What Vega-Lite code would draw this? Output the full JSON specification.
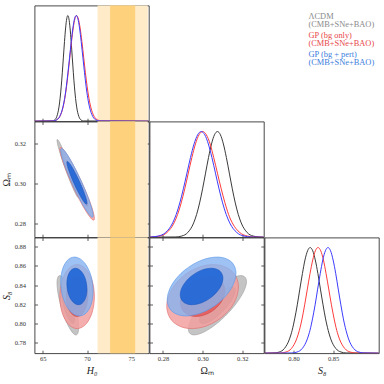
{
"$schema": "https://vega.github.io/schema/vega-lite/v6.json",
"background": "white",
"padding": {"left": 0.5, "top": 4.5, "right": 0, "bottom": 0},
"autosize": {"type": "pad"},
"config": {
 "view": {"stroke": "#333333", "strokeWidth": 0.9},
 "axis": {"domain": false, "grid": false, "zindex": 1, "tickSize": -3, "tickColor": "#333333", "tickWidth": 0.8, "labelFont": "Liberation Serif", "labelFontSize": 6.5, "labelColor": "#333333", "labelPadding": 5, "labelFlush": false, "labelOverlap": false, "titleFont": "Liberation Serif", "titleFontSize": 10, "titleFontWeight": "normal", "titleColor": "#222222", "titlePadding": 4},
 "axisY": {"labelPadding": 12, "titlePadding": 3}
},
"datasets": {
 "bands": [{"lev": "2s", "lo": 71.19, "hi": 76.87}, {"lev": "1s", "lo": 72.61, "hi": 75.45}],
 "c1": [
  {"m":"L","x":64.06,"d":0},{"m":"L","x":66.08,"d":0.0022},{"m":"L","x":66.33,"d":0.0111},{"m":"L","x":66.58,"d":0.0439},{"m":"L","x":66.83,"d":0.1353},{"m":"L","x":66.955,"d":0.2163},{"m":"L","x":67.08,"d":0.3247},{"m":"L","x":67.205,"d":0.4578},{"m":"L","x":67.33,"d":0.6065},{"m":"L","x":67.455,"d":0.7548},{"m":"L","x":67.58,"d":0.8825},{"m":"L","x":67.705,"d":0.9692},{"m":"L","x":67.83,"d":1},{"m":"L","x":67.955,"d":0.9692},{"m":"L","x":68.08,"d":0.8825},{"m":"L","x":68.205,"d":0.7548},{"m":"L","x":68.33,"d":0.6065},{"m":"L","x":68.455,"d":0.4578},{"m":"L","x":68.58,"d":0.3247},{"m":"L","x":68.705,"d":0.2163},{"m":"L","x":68.83,"d":0.1353},{"m":"L","x":69.08,"d":0.0439},{"m":"L","x":69.33,"d":0.0111},{"m":"L","x":69.58,"d":0.0022},{"m":"L","x":76.99,"d":0},
  {"m":"R","x":64.06,"d":0},{"m":"R","x":66.16,"d":0.0022},{"m":"R","x":66.54,"d":0.0111},{"m":"R","x":66.92,"d":0.0439},{"m":"R","x":67.3,"d":0.1353},{"m":"R","x":67.49,"d":0.2163},{"m":"R","x":67.68,"d":0.3247},{"m":"R","x":67.87,"d":0.4578},{"m":"R","x":68.06,"d":0.6065},{"m":"R","x":68.25,"d":0.7548},{"m":"R","x":68.44,"d":0.8825},{"m":"R","x":68.63,"d":0.9692},{"m":"R","x":68.82,"d":1},{"m":"R","x":69.02,"d":0.9692},{"m":"R","x":69.22,"d":0.8825},{"m":"R","x":69.42,"d":0.7548},{"m":"R","x":69.62,"d":0.6065},{"m":"R","x":69.82,"d":0.4578},{"m":"R","x":70.02,"d":0.3247},{"m":"R","x":70.22,"d":0.2163},{"m":"R","x":70.42,"d":0.1353},{"m":"R","x":70.82,"d":0.0439},{"m":"R","x":71.22,"d":0.0111},{"m":"R","x":71.62,"d":0.0022},{"m":"R","x":76.99,"d":0},
  {"m":"B","x":64.06,"d":0},{"m":"B","x":66.155,"d":0.0022},{"m":"B","x":66.53,"d":0.0111},{"m":"B","x":66.905,"d":0.0439},{"m":"B","x":67.28,"d":0.1353},{"m":"B","x":67.47,"d":0.2163},{"m":"B","x":67.655,"d":0.3247},{"m":"B","x":67.84,"d":0.4578},{"m":"B","x":68.03,"d":0.6065},{"m":"B","x":68.22,"d":0.7548},{"m":"B","x":68.405,"d":0.8825},{"m":"B","x":68.59,"d":0.9692},{"m":"B","x":68.78,"d":1},{"m":"B","x":68.97,"d":0.9692},{"m":"B","x":69.155,"d":0.8825},{"m":"B","x":69.34,"d":0.7548},{"m":"B","x":69.53,"d":0.6065},{"m":"B","x":69.72,"d":0.4578},{"m":"B","x":69.905,"d":0.3247},{"m":"B","x":70.09,"d":0.2163},{"m":"B","x":70.28,"d":0.1353},{"m":"B","x":70.655,"d":0.0439},{"m":"B","x":71.03,"d":0.0111},{"m":"B","x":71.405,"d":0.0022},{"m":"B","x":76.99,"d":0}
 ],
 "c2": [
  {"m":"L","x":0.2732,"d":0},{"m":"L","x":0.2865,"d":0.0022},{"m":"L","x":0.2895,"d":0.0111},{"m":"L","x":0.2925,"d":0.0439},{"m":"L","x":0.2955,"d":0.1353},{"m":"L","x":0.297,"d":0.2163},{"m":"L","x":0.2985,"d":0.3247},{"m":"L","x":0.3,"d":0.4578},{"m":"L","x":0.3015,"d":0.6065},{"m":"L","x":0.303,"d":0.7548},{"m":"L","x":0.3045,"d":0.8825},{"m":"L","x":0.306,"d":0.9692},{"m":"L","x":0.3075,"d":1},{"m":"L","x":0.309,"d":0.9692},{"m":"L","x":0.3105,"d":0.8825},{"m":"L","x":0.312,"d":0.7548},{"m":"L","x":0.3135,"d":0.6065},{"m":"L","x":0.315,"d":0.4578},{"m":"L","x":0.3165,"d":0.3247},{"m":"L","x":0.318,"d":0.2163},{"m":"L","x":0.3195,"d":0.1353},{"m":"L","x":0.3225,"d":0.0439},{"m":"L","x":0.3255,"d":0.0111},{"m":"L","x":0.3285,"d":0.0022},{"m":"L","x":0.3309,"d":0},
  {"m":"R","x":0.2732,"d":0},{"m":"R","x":0.2748,"d":0.0022},{"m":"R","x":0.2784,"d":0.0111},{"m":"R","x":0.282,"d":0.0439},{"m":"R","x":0.2856,"d":0.1353},{"m":"R","x":0.2874,"d":0.2163},{"m":"R","x":0.2892,"d":0.3247},{"m":"R","x":0.291,"d":0.4578},{"m":"R","x":0.2928,"d":0.6065},{"m":"R","x":0.2946,"d":0.7548},{"m":"R","x":0.2964,"d":0.8825},{"m":"R","x":0.2982,"d":0.9692},{"m":"R","x":0.3,"d":1},{"m":"R","x":0.3019,"d":0.9692},{"m":"R","x":0.3038,"d":0.8825},{"m":"R","x":0.3056,"d":0.7548},{"m":"R","x":0.3075,"d":0.6065},{"m":"R","x":0.3094,"d":0.4578},{"m":"R","x":0.3113,"d":0.3247},{"m":"R","x":0.3131,"d":0.2163},{"m":"R","x":0.315,"d":0.1353},{"m":"R","x":0.3188,"d":0.0439},{"m":"R","x":0.3225,"d":0.0111},{"m":"R","x":0.3263,"d":0.0022},{"m":"R","x":0.3309,"d":0},
  {"m":"B","x":0.2732,"d":0},{"m":"B","x":0.2741,"d":0.0022},{"m":"B","x":0.2777,"d":0.0111},{"m":"B","x":0.2813,"d":0.0439},{"m":"B","x":0.2849,"d":0.1353},{"m":"B","x":0.2867,"d":0.2163},{"m":"B","x":0.2885,"d":0.3247},{"m":"B","x":0.2903,"d":0.4578},{"m":"B","x":0.2921,"d":0.6065},{"m":"B","x":0.2939,"d":0.7548},{"m":"B","x":0.2957,"d":0.8825},{"m":"B","x":0.2975,"d":0.9692},{"m":"B","x":0.2993,"d":1},{"m":"B","x":0.3011,"d":0.9692},{"m":"B","x":0.3029,"d":0.8825},{"m":"B","x":0.3047,"d":0.7548},{"m":"B","x":0.3065,"d":0.6065},{"m":"B","x":0.3083,"d":0.4578},{"m":"B","x":0.3101,"d":0.3247},{"m":"B","x":0.3119,"d":0.2163},{"m":"B","x":0.3137,"d":0.1353},{"m":"B","x":0.3173,"d":0.0439},{"m":"B","x":0.3209,"d":0.0111},{"m":"B","x":0.3245,"d":0.0022},{"m":"B","x":0.3309,"d":0}
 ],
 "c3": [
  {"m":"L","x":0.7634,"d":0},{"m":"L","x":0.7755,"d":0.0022},{"m":"L","x":0.782,"d":0.0111},{"m":"L","x":0.7885,"d":0.0439},{"m":"L","x":0.795,"d":0.1353},{"m":"L","x":0.7983,"d":0.2163},{"m":"L","x":0.8015,"d":0.3247},{"m":"L","x":0.8048,"d":0.4578},{"m":"L","x":0.808,"d":0.6065},{"m":"L","x":0.8113,"d":0.7548},{"m":"L","x":0.8145,"d":0.8825},{"m":"L","x":0.8178,"d":0.9692},{"m":"L","x":0.821,"d":1},{"m":"L","x":0.8243,"d":0.9692},{"m":"L","x":0.8275,"d":0.8825},{"m":"L","x":0.8308,"d":0.7548},{"m":"L","x":0.834,"d":0.6065},{"m":"L","x":0.8373,"d":0.4578},{"m":"L","x":0.8405,"d":0.3247},{"m":"L","x":0.8438,"d":0.2163},{"m":"L","x":0.847,"d":0.1353},{"m":"L","x":0.8535,"d":0.0439},{"m":"L","x":0.86,"d":0.0111},{"m":"L","x":0.8665,"d":0.0022},{"m":"L","x":0.9077,"d":0},
  {"m":"R","x":0.7634,"d":0},{"m":"R","x":0.7838,"d":0.0022},{"m":"R","x":0.7905,"d":0.0111},{"m":"R","x":0.7973,"d":0.0439},{"m":"R","x":0.804,"d":0.1353},{"m":"R","x":0.8074,"d":0.2163},{"m":"R","x":0.8108,"d":0.3247},{"m":"R","x":0.8141,"d":0.4578},{"m":"R","x":0.8175,"d":0.6065},{"m":"R","x":0.8209,"d":0.7548},{"m":"R","x":0.8243,"d":0.8825},{"m":"R","x":0.8276,"d":0.9692},{"m":"R","x":0.831,"d":1},{"m":"R","x":0.8344,"d":0.9692},{"m":"R","x":0.8378,"d":0.8825},{"m":"R","x":0.8411,"d":0.7548},{"m":"R","x":0.8445,"d":0.6065},{"m":"R","x":0.8479,"d":0.4578},{"m":"R","x":0.8513,"d":0.3247},{"m":"R","x":0.8546,"d":0.2163},{"m":"R","x":0.858,"d":0.1353},{"m":"R","x":0.8648,"d":0.0439},{"m":"R","x":0.8715,"d":0.0111},{"m":"R","x":0.8783,"d":0.0022},{"m":"R","x":0.9077,"d":0},
  {"m":"B","x":0.7634,"d":0},{"m":"B","x":0.798,"d":0.0022},{"m":"B","x":0.8045,"d":0.0111},{"m":"B","x":0.811,"d":0.0439},{"m":"B","x":0.8175,"d":0.1353},{"m":"B","x":0.8208,"d":0.2163},{"m":"B","x":0.824,"d":0.3247},{"m":"B","x":0.8273,"d":0.4578},{"m":"B","x":0.8305,"d":0.6065},{"m":"B","x":0.8338,"d":0.7548},{"m":"B","x":0.837,"d":0.8825},{"m":"B","x":0.8403,"d":0.9692},{"m":"B","x":0.8435,"d":1},{"m":"B","x":0.8468,"d":0.9692},{"m":"B","x":0.85,"d":0.8825},{"m":"B","x":0.8533,"d":0.7548},{"m":"B","x":0.8565,"d":0.6065},{"m":"B","x":0.8598,"d":0.4578},{"m":"B","x":0.863,"d":0.3247},{"m":"B","x":0.8663,"d":0.2163},{"m":"B","x":0.8695,"d":0.1353},{"m":"B","x":0.876,"d":0.0439},{"m":"B","x":0.8825,"d":0.0111},{"m":"B","x":0.889,"d":0.0022},{"m":"B","x":0.9077,"d":0}
 ],
 "hw": [
  {"k":"L2","i":0,"x":69.054,"y":0.29325},{"k":"L2","i":1,"x":68.89,"y":0.29695},{"k":"L2","i":2,"x":68.442,"y":0.30347},{"k":"L2","i":3,"x":67.83,"y":0.31107},{"k":"L2","i":4,"x":67.218,"y":0.31772},{"k":"L2","i":5,"x":66.77,"y":0.32162},{"k":"L2","i":6,"x":66.606,"y":0.32175},{"k":"L2","i":7,"x":66.77,"y":0.31805},{"k":"L2","i":8,"x":67.218,"y":0.31153},{"k":"L2","i":9,"x":67.83,"y":0.30393},{"k":"L2","i":10,"x":68.442,"y":0.29728},{"k":"L2","i":11,"x":68.89,"y":0.29338},
  {"k":"L1","i":0,"x":68.588,"y":0.29868},{"k":"L1","i":1,"x":68.486,"y":0.30097},{"k":"L1","i":2,"x":68.209,"y":0.30501},{"k":"L1","i":3,"x":67.83,"y":0.30971},{"k":"L1","i":4,"x":67.451,"y":0.31382},{"k":"L1","i":5,"x":67.174,"y":0.31624},{"k":"L1","i":6,"x":67.073,"y":0.31632},{"k":"L1","i":7,"x":67.174,"y":0.31403},{"k":"L1","i":8,"x":67.451,"y":0.30999},{"k":"L1","i":9,"x":67.83,"y":0.30529},{"k":"L1","i":10,"x":68.209,"y":0.30118},{"k":"L1","i":11,"x":68.486,"y":0.29876},
  {"k":"R2","i":0,"x":70.838,"y":0.28236},{"k":"R2","i":1,"x":70.576,"y":0.28756},{"k":"R2","i":2,"x":69.859,"y":0.29604},{"k":"R2","i":3,"x":68.88,"y":0.30553},{"k":"R2","i":4,"x":67.901,"y":0.31349},{"k":"R2","i":5,"x":67.184,"y":0.31777},{"k":"R2","i":6,"x":66.922,"y":0.31724},{"k":"R2","i":7,"x":67.184,"y":0.31204},{"k":"R2","i":8,"x":67.901,"y":0.30356},{"k":"R2","i":9,"x":68.88,"y":0.29407},{"k":"R2","i":10,"x":69.859,"y":0.28611},{"k":"R2","i":11,"x":70.576,"y":0.28183},
  {"k":"R1","i":0,"x":70.092,"y":0.28901},{"k":"R1","i":1,"x":69.93,"y":0.29223},{"k":"R1","i":2,"x":69.486,"y":0.29748},{"k":"R1","i":3,"x":68.88,"y":0.30335},{"k":"R1","i":4,"x":68.274,"y":0.30827},{"k":"R1","i":5,"x":67.83,"y":0.31092},{"k":"R1","i":6,"x":67.668,"y":0.3106},{"k":"R1","i":7,"x":67.83,"y":0.30738},{"k":"R1","i":8,"x":68.274,"y":0.30213},{"k":"R1","i":9,"x":68.88,"y":0.29625},{"k":"R1","i":10,"x":69.486,"y":0.29133},{"k":"R1","i":11,"x":69.93,"y":0.28868},
  {"k":"B2","i":0,"x":70.696,"y":0.28379},{"k":"B2","i":1,"x":70.45,"y":0.28871},{"k":"B2","i":2,"x":69.778,"y":0.29674},{"k":"B2","i":3,"x":68.86,"y":0.30573},{"k":"B2","i":4,"x":67.942,"y":0.31326},{"k":"B2","i":5,"x":67.27,"y":0.31731},{"k":"B2","i":6,"x":67.024,"y":0.31681},{"k":"B2","i":7,"x":67.27,"y":0.31189},{"k":"B2","i":8,"x":67.942,"y":0.30386},{"k":"B2","i":9,"x":68.86,"y":0.29487},{"k":"B2","i":10,"x":69.778,"y":0.28734},{"k":"B2","i":11,"x":70.45,"y":0.28329},
  {"k":"B1","i":0,"x":69.996,"y":0.29008},{"k":"B1","i":1,"x":69.844,"y":0.29313},{"k":"B1","i":2,"x":69.428,"y":0.2981},{"k":"B1","i":3,"x":68.86,"y":0.30366},{"k":"B1","i":4,"x":68.292,"y":0.30832},{"k":"B1","i":5,"x":67.876,"y":0.31083},{"k":"B1","i":6,"x":67.724,"y":0.31052},{"k":"B1","i":7,"x":67.876,"y":0.30747},{"k":"B1","i":8,"x":68.292,"y":0.3025},{"k":"B1","i":9,"x":68.86,"y":0.29694},{"k":"B1","i":10,"x":69.428,"y":0.29228},{"k":"B1","i":11,"x":69.844,"y":0.28977}
 ],
 "hs": [
  {"k":"L2","i":0,"x":69.054,"y":0.79587},{"k":"L2","i":1,"x":68.89,"y":0.80917},{"k":"L2","i":2,"x":68.442,"y":0.8251},{"k":"L2","i":3,"x":67.83,"y":0.8394},{"k":"L2","i":4,"x":67.218,"y":0.84824},{"k":"L2","i":5,"x":66.77,"y":0.84923},{"k":"L2","i":6,"x":66.606,"y":0.84213},{"k":"L2","i":7,"x":66.77,"y":0.82883},{"k":"L2","i":8,"x":67.218,"y":0.8129},{"k":"L2","i":9,"x":67.83,"y":0.7986},{"k":"L2","i":10,"x":68.442,"y":0.78977},{"k":"L2","i":11,"x":68.89,"y":0.78877},
  {"k":"L1","i":0,"x":68.588,"y":0.80468},{"k":"L1","i":1,"x":68.486,"y":0.81291},{"k":"L1","i":2,"x":68.209,"y":0.82278},{"k":"L1","i":3,"x":67.83,"y":0.83163},{"k":"L1","i":4,"x":67.451,"y":0.83709},{"k":"L1","i":5,"x":67.174,"y":0.83771},{"k":"L1","i":6,"x":67.073,"y":0.83332},{"k":"L1","i":7,"x":67.174,"y":0.82509},{"k":"L1","i":8,"x":67.451,"y":0.81522},{"k":"L1","i":9,"x":67.83,"y":0.80638},{"k":"L1","i":10,"x":68.209,"y":0.80091},{"k":"L1","i":11,"x":68.486,"y":0.80029},
  {"k":"R2","i":0,"x":70.838,"y":0.828},{"k":"R2","i":1,"x":70.576,"y":0.84465},{"k":"R2","i":2,"x":69.859,"y":0.85683},{"k":"R2","i":3,"x":68.88,"y":0.86129},{"k":"R2","i":4,"x":67.901,"y":0.85683},{"k":"R2","i":5,"x":67.184,"y":0.84465},{"k":"R2","i":6,"x":66.922,"y":0.828},{"k":"R2","i":7,"x":67.184,"y":0.81135},{"k":"R2","i":8,"x":67.901,"y":0.79917},{"k":"R2","i":9,"x":68.88,"y":0.79471},{"k":"R2","i":10,"x":69.859,"y":0.79917},{"k":"R2","i":11,"x":70.576,"y":0.81135},
  {"k":"R1","i":0,"x":70.092,"y":0.828},{"k":"R1","i":1,"x":69.93,"y":0.8383},{"k":"R1","i":2,"x":69.486,"y":0.84584},{"k":"R1","i":3,"x":68.88,"y":0.8486},{"k":"R1","i":4,"x":68.274,"y":0.84584},{"k":"R1","i":5,"x":67.83,"y":0.8383},{"k":"R1","i":6,"x":67.668,"y":0.828},{"k":"R1","i":7,"x":67.83,"y":0.8177},{"k":"R1","i":8,"x":68.274,"y":0.81016},{"k":"R1","i":9,"x":68.88,"y":0.8074},{"k":"R1","i":10,"x":69.486,"y":0.81016},{"k":"R1","i":11,"x":69.93,"y":0.8177},
  {"k":"B2","i":0,"x":70.696,"y":0.83391},{"k":"B2","i":1,"x":70.45,"y":0.84965},{"k":"B2","i":2,"x":69.778,"y":0.86241},{"k":"B2","i":3,"x":68.86,"y":0.86875},{"k":"B2","i":4,"x":67.942,"y":0.867},{"k":"B2","i":5,"x":67.27,"y":0.8576},{"k":"B2","i":6,"x":67.024,"y":0.84309},{"k":"B2","i":7,"x":67.27,"y":0.82735},{"k":"B2","i":8,"x":67.942,"y":0.81459},{"k":"B2","i":9,"x":68.86,"y":0.80825},{"k":"B2","i":10,"x":69.778,"y":0.81},{"k":"B2","i":11,"x":70.45,"y":0.8194},
  {"k":"B1","i":0,"x":69.996,"y":0.83566},{"k":"B1","i":1,"x":69.844,"y":0.8454},{"k":"B1","i":2,"x":69.428,"y":0.85329},{"k":"B1","i":3,"x":68.86,"y":0.85722},{"k":"B1","i":4,"x":68.292,"y":0.85614},{"k":"B1","i":5,"x":67.876,"y":0.85032},{"k":"B1","i":6,"x":67.724,"y":0.84134},{"k":"B1","i":7,"x":67.876,"y":0.8316},{"k":"B1","i":8,"x":68.292,"y":0.82371},{"k":"B1","i":9,"x":68.86,"y":0.81978},{"k":"B1","i":10,"x":69.428,"y":0.82087},{"k":"B1","i":11,"x":69.844,"y":0.82668}
 ],
 "ws": [
  {"k":"L2","i":0,"x":0.32219,"y":0.84368},{"k":"L2","i":1,"x":0.32022,"y":0.84962},{"k":"L2","i":2,"x":0.31484,"y":0.84737},{"k":"L2","i":3,"x":0.3075,"y":0.83751},{"k":"L2","i":4,"x":0.30016,"y":0.82269},{"k":"L2","i":5,"x":0.29478,"y":0.80688},{"k":"L2","i":6,"x":0.29281,"y":0.79432},{"k":"L2","i":7,"x":0.29478,"y":0.78838},{"k":"L2","i":8,"x":0.30016,"y":0.79064},{"k":"L2","i":9,"x":0.3075,"y":0.80049},{"k":"L2","i":10,"x":0.31484,"y":0.81531},{"k":"L2","i":11,"x":0.32022,"y":0.83112},
  {"k":"L1","i":0,"x":0.31659,"y":0.83427},{"k":"L1","i":1,"x":0.31537,"y":0.83795},{"k":"L1","i":2,"x":0.31205,"y":0.83655},{"k":"L1","i":3,"x":0.3075,"y":0.83045},{"k":"L1","i":4,"x":0.30296,"y":0.82128},{"k":"L1","i":5,"x":0.29963,"y":0.8115},{"k":"L1","i":6,"x":0.29841,"y":0.80373},{"k":"L1","i":7,"x":0.29963,"y":0.80005},{"k":"L1","i":8,"x":0.30296,"y":0.80145},{"k":"L1","i":9,"x":0.3075,"y":0.80755},{"k":"L1","i":10,"x":0.31205,"y":0.81672},{"k":"L1","i":11,"x":0.31537,"y":0.8265},
  {"k":"R2","i":0,"x":0.31812,"y":0.83799},{"k":"R2","i":1,"x":0.31569,"y":0.85253},{"k":"R2","i":2,"x":0.30906,"y":0.8605},{"k":"R2","i":3,"x":0.3,"y":0.85976},{"k":"R2","i":4,"x":0.29094,"y":0.85051},{"k":"R2","i":5,"x":0.28431,"y":0.83523},{"k":"R2","i":6,"x":0.28189,"y":0.81801},{"k":"R2","i":7,"x":0.28431,"y":0.80347},{"k":"R2","i":8,"x":0.29094,"y":0.7955},{"k":"R2","i":9,"x":0.3,"y":0.79624},{"k":"R2","i":10,"x":0.30906,"y":0.80549},{"k":"R2","i":11,"x":0.31569,"y":0.82077},
  {"k":"R1","i":0,"x":0.31121,"y":0.83418},{"k":"R1","i":1,"x":0.30971,"y":0.84318},{"k":"R1","i":2,"x":0.30561,"y":0.84811},{"k":"R1","i":3,"x":0.3,"y":0.84765},{"k":"R1","i":4,"x":0.29439,"y":0.84193},{"k":"R1","i":5,"x":0.29029,"y":0.83248},{"k":"R1","i":6,"x":0.28879,"y":0.82182},{"k":"R1","i":7,"x":0.29029,"y":0.81282},{"k":"R1","i":8,"x":0.29439,"y":0.80789},{"k":"R1","i":9,"x":0.3,"y":0.80835},{"k":"R1","i":10,"x":0.30561,"y":0.81407},{"k":"R1","i":11,"x":0.30971,"y":0.82353},
  {"k":"B2","i":0,"x":0.31688,"y":0.85227},{"k":"B2","i":1,"x":0.31455,"y":0.86409},{"k":"B2","i":2,"x":0.30819,"y":0.86905},{"k":"B2","i":3,"x":0.2995,"y":0.86583},{"k":"B2","i":4,"x":0.29081,"y":0.85528},{"k":"B2","i":5,"x":0.28445,"y":0.84024},{"k":"B2","i":6,"x":0.28212,"y":0.82473},{"k":"B2","i":7,"x":0.28445,"y":0.81291},{"k":"B2","i":8,"x":0.29081,"y":0.80795},{"k":"B2","i":9,"x":0.2995,"y":0.81117},{"k":"B2","i":10,"x":0.30819,"y":0.82172},{"k":"B2","i":11,"x":0.31455,"y":0.83676},
  {"k":"B1","i":0,"x":0.31026,"y":0.84702},{"k":"B1","i":1,"x":0.30882,"y":0.85434},{"k":"B1","i":2,"x":0.30488,"y":0.85741},{"k":"B1","i":3,"x":0.2995,"y":0.85541},{"k":"B1","i":4,"x":0.29412,"y":0.84888},{"k":"B1","i":5,"x":0.29018,"y":0.83958},{"k":"B1","i":6,"x":0.28874,"y":0.82998},{"k":"B1","i":7,"x":0.29018,"y":0.82266},{"k":"B1","i":8,"x":0.29412,"y":0.81959},{"k":"B1","i":9,"x":0.2995,"y":0.82159},{"k":"B1","i":10,"x":0.30488,"y":0.82812},{"k":"B1","i":11,"x":0.30882,"y":0.83742}
 ]
},
"columns": 3,
"spacing": 0,
"bounds": "flush",
"align": "all",
"resolve": {"scale": {"color": "independent", "fill": "independent", "x": "independent", "y": "independent"}},
"concat": [
 {"width": 114.3, "height": 115.7,
  "resolve": {"axis": {"x": "independent", "y": "independent"}},
  "layer": [
   {"data": {"name": "bands"}, "mark": {"type": "rect"}, "encoding": {"x": {"field": "lo", "type": "quantitative", "scale": {"domain": [64.06, 76.99], "nice": false, "zero": false}, "axis": null}, "x2": {"field": "hi"}, "fill": {"field": "lev", "type": "nominal", "scale": {"domain": ["2s", "1s"], "range": ["#ffebc8", "#fed27c"]}, "legend": null}}},
   {"data": {"name": "c1"}, "mark": {"type": "line", "interpolate": "monotone", "strokeWidth": 1, "clip": true}, "encoding": {"x": {"field": "x", "type": "quantitative", "scale": {"domain": [64.06, 76.99], "nice": false, "zero": false}, "axis": {"orient": "bottom", "values": [65, 70, 75], "labels": false, "title": null}}, "y": {"field": "d", "type": "quantitative", "scale": {"domain": [0, 1.095], "nice": false}, "axis": null}, "color": {"field": "m", "type": "nominal", "scale": {"domain": ["L", "R", "B"], "range": ["#3a3a3a", "#ff3b3b", "#3b3bff"]}, "legend": null}}}
  ]},
 {"width": 114.3, "height": 115.7, "view": {"stroke": null}, "data": {"values": [{"a": 0}]}, "mark": {"type": "point", "opacity": 0}},
 {"width": 114.3, "height": 115.7, "view": {"stroke": null},
  "data": {"values": [{"m": "L", "t": "ΛCDM\n(CMB+SNe+BAO)"}, {"m": "R", "t": "GP (bg only)\n(CMB+SNe+BAO)"}, {"m": "B", "t": "GP (bg + pert)\n(CMB+SNe+BAO)"}]},
  "mark": {"type": "text", "align": "left", "baseline": "middle", "lineBreak": "\n", "lineHeight": 8, "font": "Liberation Serif", "fontSize": 8.4},
  "encoding": {
   "x": {"datum": 0, "type": "quantitative", "scale": {"domain": [-1, 1.6], "nice": false, "zero": false}, "axis": null},
   "y": {"field": "m", "type": "ordinal", "scale": {"type": "point", "domain": ["L", "R", "B"], "range": [10.7, 48.7], "padding": 0}, "axis": null},
   "text": {"field": "t"},
   "color": {"field": "m", "type": "nominal", "scale": {"domain": ["L", "R", "B"], "range": ["#8a8a8a", "#e8474a", "#3b7ddd"]}, "legend": null}}},
 {"width": 114.3, "height": 115.7,
  "resolve": {"axis": {"x": "independent", "y": "independent"}},
  "layer": [
   {"data": {"name": "bands"}, "mark": {"type": "rect"}, "encoding": {"x": {"field": "lo", "type": "quantitative", "scale": {"domain": [64.06, 76.99], "nice": false, "zero": false}, "axis": null}, "x2": {"field": "hi"}, "fill": {"field": "lev", "type": "nominal", "scale": {"domain": ["2s", "1s"], "range": ["#ffebc8", "#fed27c"]}, "legend": null}}},
   {"data": {"name": "hw"}, "transform": [{"filter": "datum.k=='L2'"}], "mark": {"type": "line", "interpolate": "cardinal-closed", "fill": "#c4c4c4", "stroke": "#9d9d9d", "strokeWidth": 0.6},
    "encoding": {"x": {"field": "x", "type": "quantitative", "scale": {"domain": [64.06, 76.99], "nice": false, "zero": false}, "axis": {"orient": "bottom", "values": [65, 70, 75], "labels": false, "title": null}}, "y": {"field": "y", "type": "quantitative", "scale": {"domain": [0.2729, 0.3312], "nice": false, "zero": false}, "axis": {"orient": "left", "values": [0.28, 0.3, 0.32], "format": ".2f", "title": "Ωₘ"}}, "order": {"field": "i", "type": "quantitative"}}},
   {"data": {"name": "hw"}, "transform": [{"filter": "datum.k=='L1'"}], "mark": {"type": "line", "interpolate": "cardinal-closed", "fill": "#8c8c8c", "stroke": "#707070", "strokeWidth": 0.6},
    "encoding": {"x": {"field": "x", "type": "quantitative", "axis": {"orient": "top", "values": [65, 70, 75], "labels": false, "title": null}}, "y": {"field": "y", "type": "quantitative", "axis": {"orient": "right", "values": [0.28, 0.3, 0.32], "labels": false, "title": null}}, "order": {"field": "i", "type": "quantitative"}}},
   {"data": {"name": "hw"}, "transform": [{"filter": "datum.k=='R2'"}], "mark": {"type": "line", "interpolate": "cardinal-closed", "fill": "#f2a0a0", "fillOpacity": 0.85, "stroke": "#e36a6a", "strokeWidth": 0.6},
    "encoding": {"x": {"field": "x", "type": "quantitative", "axis": null}, "y": {"field": "y", "type": "quantitative", "axis": null}, "order": {"field": "i", "type": "quantitative"}}},
   {"data": {"name": "hw"}, "transform": [{"filter": "datum.k=='R1'"}], "mark": {"type": "line", "interpolate": "cardinal-closed", "fill": "#e45858", "fillOpacity": 0.85, "stroke": "#d43f3f", "strokeWidth": 0.6},
    "encoding": {"x": {"field": "x", "type": "quantitative", "axis": null}, "y": {"field": "y", "type": "quantitative", "axis": null}, "order": {"field": "i", "type": "quantitative"}}},
   {"data": {"name": "hw"}, "transform": [{"filter": "datum.k=='B2'"}], "mark": {"type": "line", "interpolate": "cardinal-closed", "fill": "#84b3f0", "fillOpacity": 0.8, "stroke": "#5b97e8", "strokeWidth": 0.6},
    "encoding": {"x": {"field": "x", "type": "quantitative", "axis": null}, "y": {"field": "y", "type": "quantitative", "axis": null}, "order": {"field": "i", "type": "quantitative"}}},
   {"data": {"name": "hw"}, "transform": [{"filter": "datum.k=='B1'"}], "mark": {"type": "line", "interpolate": "cardinal-closed", "fill": "#1f65d6", "fillOpacity": 0.9, "stroke": "#1a56c0", "strokeWidth": 0.6},
    "encoding": {"x": {"field": "x", "type": "quantitative", "axis": null}, "y": {"field": "y", "type": "quantitative", "axis": null}, "order": {"field": "i", "type": "quantitative"}}}
  ]},
 {"width": 114.3, "height": 115.7,
  "resolve": {"axis": {"x": "independent", "y": "independent"}},
  "layer": [
   {"data": {"name": "c2"}, "mark": {"type": "line", "interpolate": "monotone", "strokeWidth": 1, "clip": true}, "encoding": {"x": {"field": "x", "type": "quantitative", "scale": {"domain": [0.2732, 0.3309], "nice": false, "zero": false}, "axis": {"orient": "bottom", "values": [0.28, 0.3, 0.32], "labels": false, "title": null}}, "y": {"field": "d", "type": "quantitative", "scale": {"domain": [0, 1.095], "nice": false}, "axis": null}, "color": {"field": "m", "type": "nominal", "scale": {"domain": ["L", "R", "B"], "range": ["#3a3a3a", "#ff3b3b", "#3b3bff"]}, "legend": null}}}
  ]},
 {"width": 114.3, "height": 115.7, "view": {"stroke": null}, "data": {"values": [{"a": 0}]}, "mark": {"type": "point", "opacity": 0}},
 {"width": 114.3, "height": 115.7,
  "resolve": {"axis": {"x": "independent", "y": "independent"}},
  "layer": [
   {"data": {"name": "bands"}, "mark": {"type": "rect"}, "encoding": {"x": {"field": "lo", "type": "quantitative", "scale": {"domain": [64.06, 76.99], "nice": false, "zero": false}, "axis": null}, "x2": {"field": "hi"}, "fill": {"field": "lev", "type": "nominal", "scale": {"domain": ["2s", "1s"], "range": ["#ffebc8", "#fed27c"]}, "legend": null}}},
   {"data": {"name": "hs"}, "transform": [{"filter": "datum.k=='L2'"}], "mark": {"type": "line", "interpolate": "cardinal-closed", "fill": "#c4c4c4", "stroke": "#9d9d9d", "strokeWidth": 0.6},
    "encoding": {"x": {"field": "x", "type": "quantitative", "scale": {"domain": [64.06, 76.99], "nice": false, "zero": false}, "axis": {"orient": "bottom", "values": [65, 70, 75], "title": "H₀", "titleFontStyle": "italic"}}, "y": {"field": "y", "type": "quantitative", "scale": {"domain": [0.7692, 0.8894], "nice": false, "zero": false}, "axis": {"orient": "left", "values": [0.78, 0.8, 0.82, 0.84, 0.86, 0.88], "format": ".2f", "title": "S₈", "titleFontStyle": "italic"}}, "order": {"field": "i", "type": "quantitative"}}},
   {"data": {"name": "hs"}, "transform": [{"filter": "datum.k=='L1'"}], "mark": {"type": "line", "interpolate": "cardinal-closed", "fill": "#8c8c8c", "stroke": "#707070", "strokeWidth": 0.6},
    "encoding": {"x": {"field": "x", "type": "quantitative", "axis": {"orient": "top", "values": [65, 70, 75], "labels": false, "title": null}}, "y": {"field": "y", "type": "quantitative", "axis": {"orient": "right", "values": [0.78, 0.8, 0.82, 0.84, 0.86, 0.88], "labels": false, "title": null}}, "order": {"field": "i", "type": "quantitative"}}},
   {"data": {"name": "hs"}, "transform": [{"filter": "datum.k=='R2'"}], "mark": {"type": "line", "interpolate": "cardinal-closed", "fill": "#f2a0a0", "fillOpacity": 0.85, "stroke": "#e36a6a", "strokeWidth": 0.6},
    "encoding": {"x": {"field": "x", "type": "quantitative", "axis": null}, "y": {"field": "y", "type": "quantitative", "axis": null}, "order": {"field": "i", "type": "quantitative"}}},
   {"data": {"name": "hs"}, "transform": [{"filter": "datum.k=='R1'"}], "mark": {"type": "line", "interpolate": "cardinal-closed", "fill": "#e45858", "fillOpacity": 0.85, "stroke": "#d43f3f", "strokeWidth": 0.6},
    "encoding": {"x": {"field": "x", "type": "quantitative", "axis": null}, "y": {"field": "y", "type": "quantitative", "axis": null}, "order": {"field": "i", "type": "quantitative"}}},
   {"data": {"name": "hs"}, "transform": [{"filter": "datum.k=='B2'"}], "mark": {"type": "line", "interpolate": "cardinal-closed", "fill": "#84b3f0", "fillOpacity": 0.8, "stroke": "#5b97e8", "strokeWidth": 0.6},
    "encoding": {"x": {"field": "x", "type": "quantitative", "axis": null}, "y": {"field": "y", "type": "quantitative", "axis": null}, "order": {"field": "i", "type": "quantitative"}}},
   {"data": {"name": "hs"}, "transform": [{"filter": "datum.k=='B1'"}], "mark": {"type": "line", "interpolate": "cardinal-closed", "fill": "#1f65d6", "fillOpacity": 0.9, "stroke": "#1a56c0", "strokeWidth": 0.6},
    "encoding": {"x": {"field": "x", "type": "quantitative", "axis": null}, "y": {"field": "y", "type": "quantitative", "axis": null}, "order": {"field": "i", "type": "quantitative"}}}
  ]},
 {"width": 114.3, "height": 115.7,
  "resolve": {"axis": {"x": "independent", "y": "independent"}},
  "layer": [
   {"data": {"name": "ws"}, "transform": [{"filter": "datum.k=='L2'"}], "mark": {"type": "line", "interpolate": "cardinal-closed", "fill": "#c4c4c4", "stroke": "#9d9d9d", "strokeWidth": 0.6},
    "encoding": {"x": {"field": "x", "type": "quantitative", "scale": {"domain": [0.2732, 0.3309], "nice": false, "zero": false}, "axis": {"orient": "bottom", "values": [0.28, 0.3, 0.32], "format": ".2f", "title": "Ωₘ"}}, "y": {"field": "y", "type": "quantitative", "scale": {"domain": [0.7692, 0.8894], "nice": false, "zero": false}, "axis": {"orient": "left", "values": [0.78, 0.8, 0.82, 0.84, 0.86, 0.88], "labels": false, "title": null}}, "order": {"field": "i", "type": "quantitative"}}},
   {"data": {"name": "ws"}, "transform": [{"filter": "datum.k=='L1'"}], "mark": {"type": "line", "interpolate": "cardinal-closed", "fill": "#8c8c8c", "stroke": "#707070", "strokeWidth": 0.6},
    "encoding": {"x": {"field": "x", "type": "quantitative", "axis": {"orient": "top", "values": [0.28, 0.3, 0.32], "labels": false, "title": null}}, "y": {"field": "y", "type": "quantitative", "axis": {"orient": "right", "values": [0.78, 0.8, 0.82, 0.84, 0.86, 0.88], "labels": false, "title": null}}, "order": {"field": "i", "type": "quantitative"}}},
   {"data": {"name": "ws"}, "transform": [{"filter": "datum.k=='R2'"}], "mark": {"type": "line", "interpolate": "cardinal-closed", "fill": "#f2a0a0", "fillOpacity": 0.85, "stroke": "#e36a6a", "strokeWidth": 0.6},
    "encoding": {"x": {"field": "x", "type": "quantitative", "axis": null}, "y": {"field": "y", "type": "quantitative", "axis": null}, "order": {"field": "i", "type": "quantitative"}}},
   {"data": {"name": "ws"}, "transform": [{"filter": "datum.k=='R1'"}], "mark": {"type": "line", "interpolate": "cardinal-closed", "fill": "#e45858", "fillOpacity": 0.85, "stroke": "#d43f3f", "strokeWidth": 0.6},
    "encoding": {"x": {"field": "x", "type": "quantitative", "axis": null}, "y": {"field": "y", "type": "quantitative", "axis": null}, "order": {"field": "i", "type": "quantitative"}}},
   {"data": {"name": "ws"}, "transform": [{"filter": "datum.k=='B2'"}], "mark": {"type": "line", "interpolate": "cardinal-closed", "fill": "#84b3f0", "fillOpacity": 0.8, "stroke": "#5b97e8", "strokeWidth": 0.6},
    "encoding": {"x": {"field": "x", "type": "quantitative", "axis": null}, "y": {"field": "y", "type": "quantitative", "axis": null}, "order": {"field": "i", "type": "quantitative"}}},
   {"data": {"name": "ws"}, "transform": [{"filter": "datum.k=='B1'"}], "mark": {"type": "line", "interpolate": "cardinal-closed", "fill": "#1f65d6", "fillOpacity": 0.9, "stroke": "#1a56c0", "strokeWidth": 0.6},
    "encoding": {"x": {"field": "x", "type": "quantitative", "axis": null}, "y": {"field": "y", "type": "quantitative", "axis": null}, "order": {"field": "i", "type": "quantitative"}}}
  ]},
 {"width": 114.3, "height": 115.7,
  "resolve": {"axis": {"x": "independent", "y": "independent"}},
  "layer": [
   {"data": {"name": "c3"}, "mark": {"type": "line", "interpolate": "monotone", "strokeWidth": 1, "clip": true}, "encoding": {"x": {"field": "x", "type": "quantitative", "scale": {"domain": [0.7634, 0.9077], "nice": false, "zero": false}, "axis": {"orient": "bottom", "values": [0.8, 0.85], "format": ".2f", "title": "S₈", "titleFontStyle": "italic"}}, "y": {"field": "d", "type": "quantitative", "scale": {"domain": [0, 1.095], "nice": false}, "axis": null}, "color": {"field": "m", "type": "nominal", "scale": {"domain": ["L", "R", "B"], "range": ["#3a3a3a", "#ff3b3b", "#3b3bff"]}, "legend": null}}}
  ]}
]
}
